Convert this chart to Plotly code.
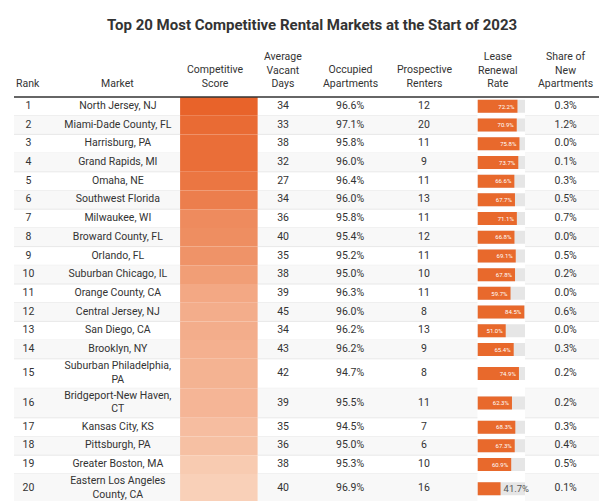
import plotly.graph_objects as go

title = "Top 20 Most Competitive Rental Markets at the Start of 2023"
headers = ["Rank", "Market", "Competitive<br>Score", "Average<br>Vacant<br>Days", "Occupied<br>Apartments",
           "Prospective<br>Renters", "Lease<br>Renewal<br>Rate", "Share of<br>New<br>Apartments"]
rank = list(range(1, 21))
market = ["North Jersey, NJ", "Miami-Dade County, FL", "Harrisburg, PA", "Grand Rapids, MI", "Omaha, NE",
          "Southwest Florida", "Milwaukee, WI", "Broward County, FL", "Orlando, FL", "Suburban Chicago, IL",
          "Orange County, CA", "Central Jersey, NJ", "San Diego, CA", "Brooklyn, NY",
          "Suburban Philadelphia,<br>PA", "Bridgeport-New Haven,<br>CT", "Kansas City, KS", "Pittsburgh, PA",
          "Greater Boston, MA", "Eastern Los Angeles<br>County, CA"]
score = [115, 112, 111, 111, 108, 105, 100, 99, 97, 93, 89, 87, 87, 86, 85, 84, 81, 80, 76, 74]
vacant = [34, 33, 38, 32, 27, 34, 36, 40, 35, 38, 39, 45, 34, 43, 42, 39, 35, 36, 38, 40]
occupied = [96.6, 97.1, 95.8, 96.0, 96.4, 96.0, 95.8, 95.4, 95.2, 95.0, 96.3, 96.0, 96.2, 96.2, 94.7, 95.5, 94.5, 95.0, 95.3, 96.9]
prospective = [12, 20, 11, 9, 11, 13, 11, 12, 11, 10, 11, 8, 13, 9, 8, 11, 7, 6, 10, 16]
renewal = [72.2, 70.9, 75.8, 73.7, 66.6, 67.7, 71.1, 66.8, 69.1, 67.8, 59.7, 84.5, 51.0, 65.4, 74.9, 62.3, 68.3, 67.3, 60.9, 41.7]
share_new = [0.3, 1.2, 0.0, 0.1, 0.3, 0.5, 0.7, 0.0, 0.5, 0.2, 0.0, 0.6, 0.0, 0.3, 0.2, 0.2, 0.3, 0.4, 0.5, 0.1]

W, H = 607, 501
top = 89
heights = [29.5 if "<br>" in m else 18.7 for m in market]
centers, bounds = [], [top]
y = top
for h in heights:
    centers.append(y + h / 2)
    y += h
    bounds.append(y)

k = 0.972
colx = [v * k for v in [21, 113, 213, 283, 352, 428, 504, 573.7]]
score_l, score_r = 177 * k, 257 * k
lease_l, lease_r = 483 * k, 532 * k
left, right = 6, 600

fig = go.Figure()
shapes = []
for i in range(20):
    if i % 2 == 1:
        shapes.append(dict(type="rect", xref="x", yref="y", x0=left, x1=right, y0=bounds[i], y1=bounds[i + 1],
                           fillcolor="#f8f8f8", line_width=0, layer="below"))
    shapes.append(dict(type="line", xref="x", yref="y", x0=left, x1=right, y0=bounds[i + 1], y1=bounds[i + 1],
                       line=dict(color="#e8e8e8", width=1), layer="below"))
shapes.append(dict(type="line", xref="x", yref="y", x0=left, x1=right, y0=top, y1=top,
                   line=dict(color="#333333", width=1.5)))

fig.add_trace(go.Bar(x=[1] * 20, y=centers, width=heights, orientation="h", xaxis="x3", yaxis="y",
                     marker=dict(color=score, colorscale=[[0, "#fbe0cd"], [1, "#e8632a"]], cmin=68, cmax=115,
                                 line_width=0), hoverinfo="skip"))
fig.add_trace(go.Bar(x=[86] * 20, y=centers, width=13, orientation="h", xaxis="x2", yaxis="y",
                     marker=dict(color="#e6e6e6", line_width=0), hoverinfo="skip"))
fig.add_trace(go.Bar(x=renewal, y=centers, width=13, orientation="h", xaxis="x2", yaxis="y",
                     marker=dict(color="#e8692c", line_width=0),
                     text=[f"{v:.1f}%" for v in renewal],
                     textposition=["inside" if v > 45 else "outside" for v in renewal],
                     insidetextanchor="end", textangle=0, cliponaxis=False,
                     insidetextfont=dict(color="white", size=9.5, family="Roboto"),
                     outsidetextfont=dict(color="#555555", size=9.5, family="Roboto"), hoverinfo="skip"))

font = dict(family="Roboto", size=10.5, color="#333333")
cols = [
    [str(r) for r in rank], market, None, [str(v) for v in vacant], [f"{v:.1f}%" for v in occupied],
    [str(v) for v in prospective], None, [f"{v:.1f}%" for v in share_new]]
for j, c in enumerate(cols):
    if c is None:
        continue
    fig.add_trace(go.Scatter(x=[colx[j]] * 20, y=centers, mode="text", text=c, textfont=font,
                             xaxis="x", yaxis="y", hoverinfo="skip"))
fig.add_trace(go.Scatter(x=[colx[2]] * 20, y=centers, mode="text",
                         text=[f"<b>{s}</b>" if s >= 100 else str(s) for s in score],
                         textfont=dict(family="Roboto", size=10.5,
                                       color=["white" if s >= 100 else "#333333" for s in score]),
                         xaxis="x", yaxis="y", hoverinfo="skip"))

anns = [dict(x=colx[j], y=84, xref="x", yref="y", text=h, showarrow=False, yanchor="bottom",
             font=dict(family="Roboto", size=10.5, color="#333333")) for j, h in enumerate(headers)]
anns.append(dict(x=W / 2, y=17, xref="x", yref="y", text=f"<b>{title}</b>", showarrow=False,
                 font=dict(family="Roboto", size=15, color="#333333")))

fig.update_layout(
    width=W, height=H, margin=dict(l=0, r=0, t=0, b=0), showlegend=False, barmode="overlay",
    plot_bgcolor="white", paper_bgcolor="white", shapes=shapes, annotations=anns,
    uniformtext=dict(minsize=9, mode="show"),
    xaxis=dict(range=[0, W], visible=False, fixedrange=True),
    xaxis2=dict(domain=[lease_l / W, lease_r / W], range=[0, 86], visible=False, anchor="y"),
    xaxis3=dict(domain=[score_l / W, score_r / W], range=[0, 1], visible=False, anchor="y"),
    yaxis=dict(range=[H, 0], visible=False),
)
fig.write_html("out.html")
